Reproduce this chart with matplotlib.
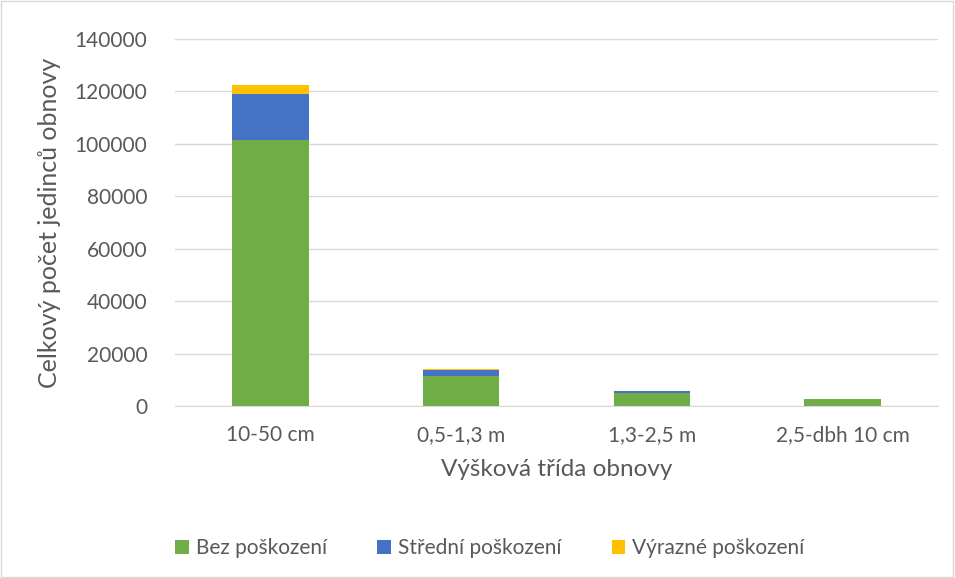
import matplotlib.pyplot as plt
import numpy as np

# data
categories = ["10-50 cm", "0,5-1,3 m", "1,3-2,5 m", "2,5-dbh 10 cm"]
bez = [101500, 11500, 5000, 2500]
stredni = [17500, 2400, 700, 150]
vyrazne = [3500, 200, 100, 0]
series_names = ["Bez poškození", "Střední poškození", "Výrazné poškození"]
colors = ["#70AD47", "#4472C4", "#FFC000"]

plt.rcParams['font.family'] = ['Lato', 'DejaVu Sans']
txt = "#595959"

fig = plt.figure(figsize=(9.55, 5.78), dpi=100)
ax = fig.add_axes([175/955, 1 - 406/578, (938-175)/955, (406-39)/578])

x = np.arange(len(categories))
w = 0.4
b1 = np.array(bez)
b2 = b1 + np.array(stredni)
ax.bar(x, bez, w, color=colors[0], label=series_names[0], zorder=3)
ax.bar(x, stredni, w, bottom=b1, color=colors[1], label=series_names[1], zorder=3)
ax.bar(x, vyrazne, w, bottom=b2, color=colors[2], label=series_names[2], zorder=3)

ax.set_ylim(0, 140000)
ax.set_xlim(-0.5, len(categories) - 0.5)
ax.set_yticks(np.arange(0, 140001, 20000))
ax.set_xticks(x)
ax.set_xticklabels(categories)
ax.grid(axis='y', color="#D9D9D9", linewidth=1, zorder=0)
for s in ax.spines.values():
    s.set_visible(False)
ax.spines['bottom'].set_visible(True)
ax.spines['bottom'].set_color("#D9D9D9")
ax.tick_params(length=0, colors=txt, labelsize=15)
ax.tick_params(axis='x', pad=14)
ax.tick_params(axis='y', pad=20)

ax.set_xlabel("Výšková třída obnovy", fontsize=17.5, color=txt, labelpad=10)
ax.set_ylabel("Celkový počet jedinců obnovy", fontsize=18, color=txt, labelpad=10)

fig.legend(loc='center', bbox_to_anchor=(490/955, 1 - 548/578), ncol=3, frameon=False,
           fontsize=15, labelcolor=txt, handlelength=0.65, handleheight=0.65,
           columnspacing=2.4, handletextpad=0.35)

# outer border
fig.patches.append(plt.Rectangle((0.001, 0.001), 0.997, 0.997, transform=fig.transFigure,
                                 fill=False, edgecolor="#D9D9D9", linewidth=1))

fig.savefig("out.png", dpi=100)
